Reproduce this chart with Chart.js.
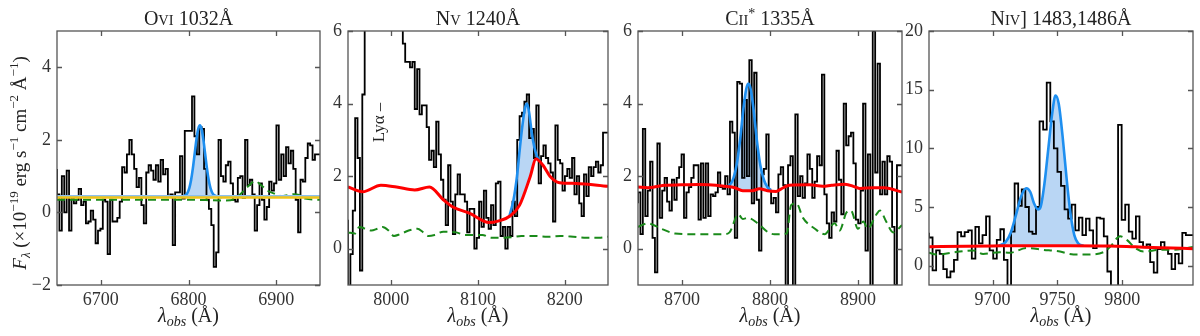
<!DOCTYPE html>
<html><head><meta charset="utf-8">
<script src="https://cdn.jsdelivr.net/npm/chart.js@4/dist/chart.umd.min.js"></script>
<style>
html,body{margin:0;padding:0;background:#fff;}
#wrap{position:relative;width:1200px;height:336px;overflow:hidden;background:#fff;}
canvas{position:absolute;top:0;}
</style></head><body>
<div id="wrap">
<canvas id="c1" width="330" height="336" style="left:0px"></canvas>
<canvas id="c2" width="290" height="336" style="left:330px"></canvas>
<canvas id="c3" width="285" height="336" style="left:620px"></canvas>
<canvas id="c4" width="295" height="336" style="left:905px"></canvas>
</div>
<script>
// ---------------- DATA ----------------
const binW = 2.75; // spectral bin width (Å)

// O VI 1032
const oviLam0 = 6650;
const oviFlux = [1.2,0.5,-0.5,1.0,0.0,1.15,-0.5,0.4,0.25,0.35,
 0.65,0.2,0.3,-0.3,-0.25,0.05,-0.2,-0.85,-0.5,-0.45,
 0.35,0.3,-1.15,0.35,-0.25,-0.25,-0.15,0.3,1.25,1.1,
 1.6,2.0,1.6,1.2,0.7,0.95,0.2,-0.3,1.1,1.3,
 1.15,0.9,1.3,0.85,1.45,1.05,1.2,0.45,0.5,-0.9,
 0.55,0.55,1.55,0.38,2.25,2.25,2.25,3.2,2.1,1.6,
 2.35,2.3,1.2,0.35,0.1,-0.35,-1.5,-1.1,2.0,1.0,
 0.85,1.3,1.4,0.8,0.35,0.3,0.95,1.0,0.4,2.0,
 0.75,0.9,0.5,-0.5,0.2,0.8,0.35,-0.2,0.15,0.85,
 0.6,0.8,2.4,0.9,1.6,1.0,1.8,1.35,1.7,1.2,
 0.35,-0.55,0.9,0.85,1.5,1.9,1.85,1.45,1.6];
const oviNoiseLam  = [6650,6700,6750,6800,6840,6852,6860,6868,6876,6883,6890,6898,6906,6914,6920,6926,6933,6950];
const oviNoiseFlux = [0.35,0.35,0.35,0.35,0.33,0.36,0.52,0.72,0.86,0.75,0.6,0.52,0.45,0.48,0.5,0.48,0.38,0.35];
const oviContLam  = [6650,6950];
const oviContFlux = [0.41,0.41];
const oviBaseLam  = [6650,6950];
const oviBaseFlux = [0.45,0.45];
const oviFitLam  = [6788,6797,6801,6803,6805,6807,6809,6811,6813,6815,6817,6819,6821,6823,6825,6829,6838];
const oviFitFlux = [0.42,0.48,0.68,0.9,1.22,1.61,2.0,2.29,2.4,2.29,2.0,1.61,1.22,0.9,0.68,0.48,0.42];

// N V 1240
const nvLam0 = 7950;
const nvFlux = [0.8,-1.5,-0.15,1.05,3.6,2.5,-0.6,4.25,
 8,10,12,13,14,13.5,12.5,11,10,9,8.5,8,7.5,7,6.6,6.2,
 5.65,5.15,5.15,5.0,5.15,3.85,4.95,3.7,3.95,3.95,
 3.35,2.45,2.7,2.25,3.5,2.6,1.9,1.35,0.65,2.3,
 1.3,0.4,1.5,2.05,1.5,1.5,1.3,0.45,1.1,1.1,
 0.0,0.3,1.3,0.6,1.6,0.85,0.55,1.2,0.65,1.8,
 1.85,0.35,0.6,0.0,0.6,0.35,1.3,0.9,3.0,3.65,
 3.75,4.05,4.25,3.05,3.3,2.5,3.95,1.8,2.55,2.85,
 2.5,2.35,2.1,0.75,3.4,2.45,2.35,1.6,2.0,2.2,
 1.95,2.5,1.5,2.0,1.25,0.9,2.05,1.45,2.25,2.0,
 2.25,2.4,2.1,2.3,3.2];
const nvNoiseLam  = [7950,7958,7963,7970,7977,7984,7990,7997,8003,8010,8020,8030,8037,8043,8050,8060,8075,8085,8095,8105,8115,8125,8140,8150,8165,8180,8195,8210,8225,8240,8250];
const nvNoiseFlux = [0.45,0.42,0.6,0.55,0.5,0.55,0.6,0.5,0.35,0.4,0.5,0.55,0.45,0.35,0.38,0.47,0.45,0.38,0.38,0.38,0.3,0.3,0.32,0.35,0.35,0.33,0.35,0.33,0.3,0.3,0.33];
const nvContLam  = [7950,7967,7988,8006,8027,8044,8060,8071,8090,8113,8123,8137,8148,8160,8167,8175,8183,8194,8213,8250];
const nvContFlux = [1.7,1.57,1.75,1.7,1.62,1.7,1.35,1.15,0.98,0.72,0.76,0.9,1.2,1.97,2.47,2.3,2.0,1.82,1.8,1.72];
const nvFitLam  = [8136,8141,8145,8148,8151,8154,8156.5,8159,8162,8165,8168,8171];
const nvFitFlux = [0.88,1.35,2.0,2.7,3.35,3.85,4.0,3.75,3.2,2.8,2.55,2.42];

// C II* 1335
const ciiLam0 = 8650;
const ciiFlux = [1.25,1.55,0.4,3.3,0.9,1.6,2.4,0.3,-0.65,2.9,
 0.85,1.6,1.95,1.3,1.05,1.9,1.35,1.95,2.25,2.6,
 0.85,1.55,1.7,1.95,2.3,2.3,0.8,2.35,0.85,2.35,
 0.9,1.5,1.45,1.55,2.1,1.7,1.65,2.0,1.5,3.5,
 3.2,0.3,4.6,4.55,1.95,4.1,2.0,5.2,1.25,4.85,
 1.35,-0.05,2.05,2.2,3.15,1.6,1.25,1.4,1.0,2.05,
 2.25,1.75,-2,2.3,2.55,-2,3.7,1.45,2.0,1.4,
 1.8,2.6,2.2,1.4,1.85,2.55,2.3,4.8,1.5,0.7,
 0.3,1.0,0.75,2.7,1.9,0.95,4.0,2.85,3.1,3.2,
 2.35,0.8,0.7,1.6,4.0,-0.05,2.6,-2,6.0,2.1,
 5.1,1.5,2.4,1.5,2.55,2.4,0.6,-1.0,2.3];
const ciiNoiseLam  = [8650,8661,8676.5,8692,8718,8748,8754,8764,8769,8775,8786,8798,8805,8819,8824,8830,8837.5,8851,8862,8873.5,8879,8887,8892,8900,8906,8911,8921,8925,8932,8940,8950];
const ciiNoiseFlux = [0.6,0.7,0.55,0.42,0.4,0.4,0.45,0.95,0.82,0.85,0.7,0.45,0.4,0.42,1.2,1.25,0.85,0.55,0.4,0.7,0.5,1.0,1.05,0.55,0.75,0.55,0.95,1.05,0.75,0.45,0.65];
const ciiContLam  = [8650,8661,8680,8699,8718,8730,8748,8760,8769,8780,8788,8797,8807,8815,8822,8845,8860,8870,8885,8897,8902,8918,8930,8950];
const ciiContFlux = [1.7,1.68,1.75,1.76,1.77,1.76,1.72,1.68,1.6,1.6,1.65,1.6,1.58,1.68,1.75,1.76,1.72,1.75,1.78,1.7,1.66,1.68,1.68,1.56];
const ciiFitLam  = [8752,8757,8762,8766,8770,8773,8775.5,8778,8781,8785,8789,8793,8797,8801];
const ciiFitFlux = [1.72,1.85,2.3,3.0,3.9,4.4,4.55,4.4,3.9,3.0,2.3,1.9,1.7,1.62];

// N IV] 1483,1486
const nivLam0 = 9651;
const nivFlux = [2.8,2.4,-0.4,1.3,1.0,-0.3,-1.0,-0.5,0.5,2.85,
 2.5,2.85,3.0,0.6,3.3,1.9,2.6,4.2,1.3,0.6,
 2.2,3.1,0.5,-2.5,2.9,7.0,5.1,6.5,5.0,2.9,
 2.7,5.0,12.3,11.6,15.6,12.3,10.0,8.0,6.8,4.8,
 4.0,5.2,3.0,4.1,2.6,4.0,3.0,1.5,4.1,4.0,
 2.5,-0.5,-2.5,-2.5,12.0,3.9,5.2,2.9,2.3,4.2,
 2.0,1.6,1.8,0.3,-0.6,1.4,2.0,1.5,1.0,-0.3,
 1.0,0.2,2.8,2.6];
const nivNoiseLam  = [9651,9656.7,9674.7,9685,9692.7,9705.6,9713.3,9726.2,9739,9752,9762.3,9772.6,9785.5,9790.6,9798.3,9803.5,9810,9816.4,9829.3,9839.6,9847.3,9854.5];
const nivNoiseFlux = [1.1,0.95,1.2,1.3,1.0,1.15,1.1,1.5,1.35,1.2,0.95,0.95,1.15,1.6,2.5,2.2,1.5,1.2,1.35,1.35,1.45,1.6];
const nivContLam  = [9651,9680,9700,9730,9760,9790,9810,9830,9854.5];
const nivContFlux = [1.62,1.66,1.68,1.7,1.7,1.68,1.6,1.52,1.45];
const nivFitLam  = [9705,9710,9714,9718,9722,9726,9729,9732,9735,9737,9740,9743,9746,9748.5,9751,9754,9757,9760,9763,9766,9770];
const nivFitFlux = [1.7,2.0,2.8,4.3,5.9,6.6,6.3,5.3,4.8,5.0,7.0,10.0,13.0,14.5,13.8,11.0,7.5,4.5,2.6,1.9,1.7];

// ticks
const oviXTicks = [6700,6800,6900], oviYTicks = [-2,0,2,4];
const nvXTicks  = [8000,8100,8200], nvYTicks  = [0,2,4,6];
const ciiXTicks = [8700,8800,8900], ciiYTicks = [0,2,4,6];
const nivXTicks = [9700,9750,9800], nivYTicks = [0,5,10,15,20];

// ---------------- DRAWING ----------------
const FAM = '"Liberation Serif","DejaVu Serif",serif';
const pts = (xs, ys) => xs.map((x,i)=>({x:x, y:ys[i]}));
function stepPts(lam0, vals){
  const p = vals.map((v,i)=>({x: lam0 + i*binW, y: v}));
  p.push({x: lam0 + vals.length*binW, y: vals[vals.length-1]});
  return p;
}
function fnt(s){ return (s.it?'italic ':'') + s.sz + 'px ' + FAM; }
function rich(ctx, segs, x, y, rot){
  ctx.save();
  ctx.translate(x,y); if (rot) ctx.rotate(rot);
  ctx.textAlign='left'; ctx.textBaseline='alphabetic'; ctx.fillStyle='#222';
  let w=0; const ws=[];
  segs.forEach(s=>{ctx.font=fnt(s); const m=ctx.measureText(s.t).width; ws.push(m); w+=m;});
  let cx=-w/2;
  segs.forEach((s,i)=>{ctx.font=fnt(s); ctx.fillText(s.t, cx, s.dy||0); cx+=ws[i];});
  ctx.restore();
}
const xLabel = [{t:'λ',it:1,sz:20},{t:'obs',it:1,sz:14,dy:4},{t:' (Å)',sz:20}];
const yLabel = [{t:'F',it:1,sz:19},{t:'λ',it:1,sz:13,dy:4},{t:' (×10',sz:19},{t:'−19',sz:13,dy:-8},
  {t:' erg s',sz:19},{t:'−1',sz:13,dy:-8},{t:' cm',sz:19},{t:'−2',sz:13,dy:-8},{t:' Å',sz:19},{t:'−1',sz:13,dy:-8},{t:')',sz:19}];

const deco = {
  id:'deco',
  afterDatasetsDraw(chart, args, o){
    const {ctx, chartArea:a, scales:{x,y}} = chart;
    ctx.save();
    ctx.strokeStyle='#555'; ctx.lineWidth=1.3;
    ctx.strokeRect(a.left, a.top, a.right-a.left, a.bottom-a.top);
    ctx.beginPath();
    o.xt.forEach(v=>{const p=Math.round(x.getPixelForValue(v))+0.5;
      ctx.moveTo(p,a.bottom); ctx.lineTo(p,a.bottom-5); ctx.moveTo(p,a.top); ctx.lineTo(p,a.top+5);});
    o.yt.forEach(v=>{const p=Math.round(y.getPixelForValue(v))+0.5;
      ctx.moveTo(a.left,p); ctx.lineTo(a.left+5,p); ctx.moveTo(a.right,p); ctx.lineTo(a.right-5,p);});
    ctx.stroke();
    ctx.restore();
    const cx=(a.left+a.right)/2;
    rich(ctx, o.title, cx, 25, 0);
    rich(ctx, xLabel, cx, 322, 0);
    if (o.ylab) rich(ctx, yLabel, 26, 163, -Math.PI/2);
    if (o.note) rich(ctx, o.note.segs, x.getPixelForValue(o.note.x), y.getPixelForValue(o.note.y), -Math.PI/2);
  }
};

const FILL = '#b9d6f4';
function hist(data){ return {data, borderColor:'#000', borderWidth:1.8, stepped:'after', pointRadius:0, fill:false, order:5}; }
function noise(data){ return {data, borderColor:'#1a8a1a', borderWidth:2, borderDash:[8,5], pointRadius:0, fill:false, cubicInterpolationMode:'monotone', order:4}; }
function cont(data, col, w, ord){ return {data, borderColor:col, borderWidth:w, pointRadius:0, fill:false, cubicInterpolationMode:'monotone', order:ord}; }
function fit(data, target){ return {data, borderColor:'#1e8ff0', borderWidth:2.6, pointRadius:0, backgroundColor:FILL,
  fill:{target:target, above:FILL, below:FILL}, cubicInterpolationMode:'monotone', order:2}; }

const fmt = v => v<0 ? '\u2212'+Math.abs(v) : String(v);

function make(id, L, R, xmin, xmax, ymin, ymax, xt, yt, datasets, deco_o){
  new Chart(document.getElementById(id), {
    type:'line',
    data:{datasets},
    options:{
      responsive:false, animation:false, devicePixelRatio:1, events:[],
      layout:{padding:{left:0, right:R, top:31, bottom:0}},
      plugins:{legend:{display:false}, tooltip:{enabled:false}, filler:{drawTime:'beforeDatasetsDraw'}, deco:deco_o},
      scales:{
        x:{type:'linear', min:xmin, max:xmax, grid:{display:false, drawTicks:false}, border:{display:false},
           afterBuildTicks:s=>{s.ticks = xt.map(v=>({value:v}));},
           afterFit:s=>{s.height=51;},
           ticks:{padding:4, color:'#333', font:{family:FAM, size:18}, maxRotation:0, autoSkip:false, callback:fmt}},
        y:{type:'linear', min:ymin, max:ymax, grid:{display:false, drawTicks:false}, border:{display:false},
           afterBuildTicks:s=>{s.ticks = yt.map(v=>({value:v}));},
           afterFit:s=>{s.width=L;},
           ticks:{padding:6, color:'#333', font:{family:FAM, size:18}, autoSkip:false, callback:fmt}}
      }
    },
    plugins:[deco]
  });
}

make('c1', 57, 10, 6650, 6950, -2, 5, oviXTicks, oviYTicks, [
  hist(stepPts(oviLam0, oviFlux)),
  noise(pts(oviNoiseLam, oviNoiseFlux)),
  cont(pts(oviContLam, oviContFlux), '#f0c419', 2.6, 0),
  cont(pts(oviBaseLam, oviBaseFlux), '#8cc0ee', 2, 1),
  fit(pts(oviFitLam, oviFitFlux), 2)
], {xt:oviXTicks, yt:oviYTicks, ylab:true, title:[{t:'O',sz:20},{t:'VI',sz:14.5},{t:' 1032Å',sz:20}]});

make('c2', 18, 12, 7950, 8250, -1, 6, nvXTicks, nvYTicks, [
  hist(stepPts(nvLam0, nvFlux)),
  noise(pts(nvNoiseLam, nvNoiseFlux)),
  cont(pts(nvContLam, nvContFlux), '#ff0000', 3, 0),
  fit(pts(nvFitLam, nvFitFlux), 2)
], {xt:nvXTicks, yt:nvYTicks, title:[{t:'N',sz:20},{t:'V',sz:14.5},{t:' 1240Å',sz:20}],
    note:{x:7991, y:3.48, segs:[{t:'Lyα –',sz:17}]}});

make('c3', 18, 3, 8650, 8950, -1, 6, ciiXTicks, ciiYTicks, [
  hist(stepPts(ciiLam0, ciiFlux)),
  noise(pts(ciiNoiseLam, ciiNoiseFlux)),
  cont(pts(ciiContLam, ciiContFlux), '#ff0000', 3, 0),
  fit(pts(ciiFitLam, ciiFitFlux), 2)
], {xt:ciiXTicks, yt:ciiYTicks, title:[{t:'C',sz:20},{t:'II',sz:14.5},{t:'*',sz:14,dy:-7},{t:' 1335Å',sz:20}]});

make('c4', 24, 7, 9651, 9854.5, -1.65, 20, nivXTicks, nivYTicks, [
  hist(stepPts(nivLam0, nivFlux)),
  noise(pts(nivNoiseLam, nivNoiseFlux)),
  cont(pts(nivContLam, nivContFlux), '#ff0000', 3, 0),
  fit(pts(nivFitLam, nivFitFlux), 2)
], {xt:nivXTicks, yt:nivYTicks, title:[{t:'N',sz:20},{t:'IV',sz:14.5},{t:'] 1483,1486Å',sz:20}]});
</script>
</body></html>
